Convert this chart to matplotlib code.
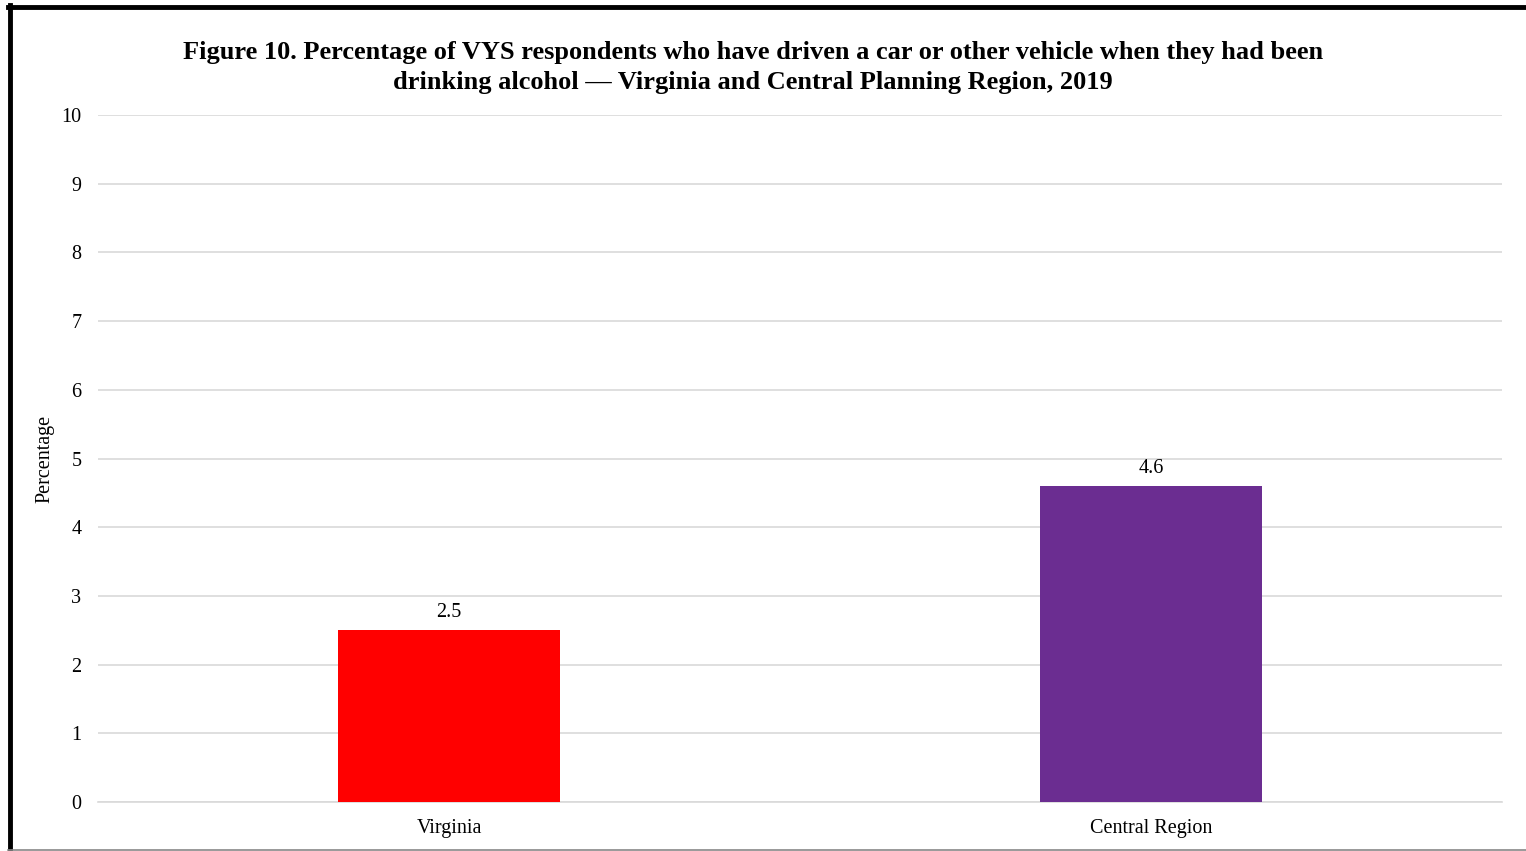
import matplotlib
matplotlib.use("Agg")
import matplotlib.pyplot as plt
from matplotlib.lines import Line2D

categories = ["Virginia", "Central Region"]
values = [2.5, 4.6]
colors = ["#FF0000", "#6B2D91"]
yticks = list(range(0, 11))

plt.rcParams['font.family'] = ['Liberation Serif', 'DejaVu Serif']

W, H = 1526, 851
fig = plt.figure(figsize=(W/100, H/100), dpi=100)
ax = fig.add_axes([98/W, 1-802/H, (1502-98)/W, (802-115)/H])

x = list(range(len(categories)))
bars = ax.bar(x, values, width=0.315, color=colors, zorder=3)
for xi, v in zip(x, values):
    ax.annotate(f"{v}", (xi, v), xytext=(0, 6), textcoords="offset points",
                ha="center", va="bottom", fontsize=14.5)

ax.set_xlim(-0.5, len(categories) - 0.5)
ax.set_ylim(0, 10)
ax.set_yticks(yticks)
ax.set_xticks(x)
ax.set_xticklabels(categories)
ax.tick_params(axis='both', length=0, labelsize=14.5)
ax.tick_params(axis='y', pad=12)
ax.tick_params(axis='x', pad=12)
ax.grid(axis='y', color='#D9D9D9', linewidth=1.2, zorder=0)
for s in ['top', 'right', 'left']:
    ax.spines[s].set_visible(False)
ax.spines['bottom'].set_color('#D9D9D9')
ax.spines['bottom'].set_linewidth(1.2)
ax.set_ylabel("Percentage", fontsize=14.5)
ax.yaxis.set_label_coords((54 - 98) / (1502 - 98), 0.5)

fig.text(753/W, 1-53/H, "Figure 10. Percentage of VYS respondents who have driven a car or other vehicle when they had been",
         ha="center", va="center", fontsize=19, fontweight="bold")
fig.text(753/W, 1-83/H, "drinking alcohol \u2014 Virginia and Central Planning Region, 2019",
         ha="center", va="center", fontsize=19, fontweight="bold")

# frame
fig.add_artist(Line2D([8/W, 1], [1-7/H, 1-7/H], color='black', linewidth=3.5, transform=fig.transFigure))
fig.add_artist(Line2D([10/W, 10/W], [0, 1-5/H], color='black', linewidth=3.5, transform=fig.transFigure))
fig.add_artist(Line2D([8/W, 1], [1-849.5/H, 1-849.5/H], color='#888888', linewidth=1.2, transform=fig.transFigure))

fig.savefig("out.png", dpi=100)
